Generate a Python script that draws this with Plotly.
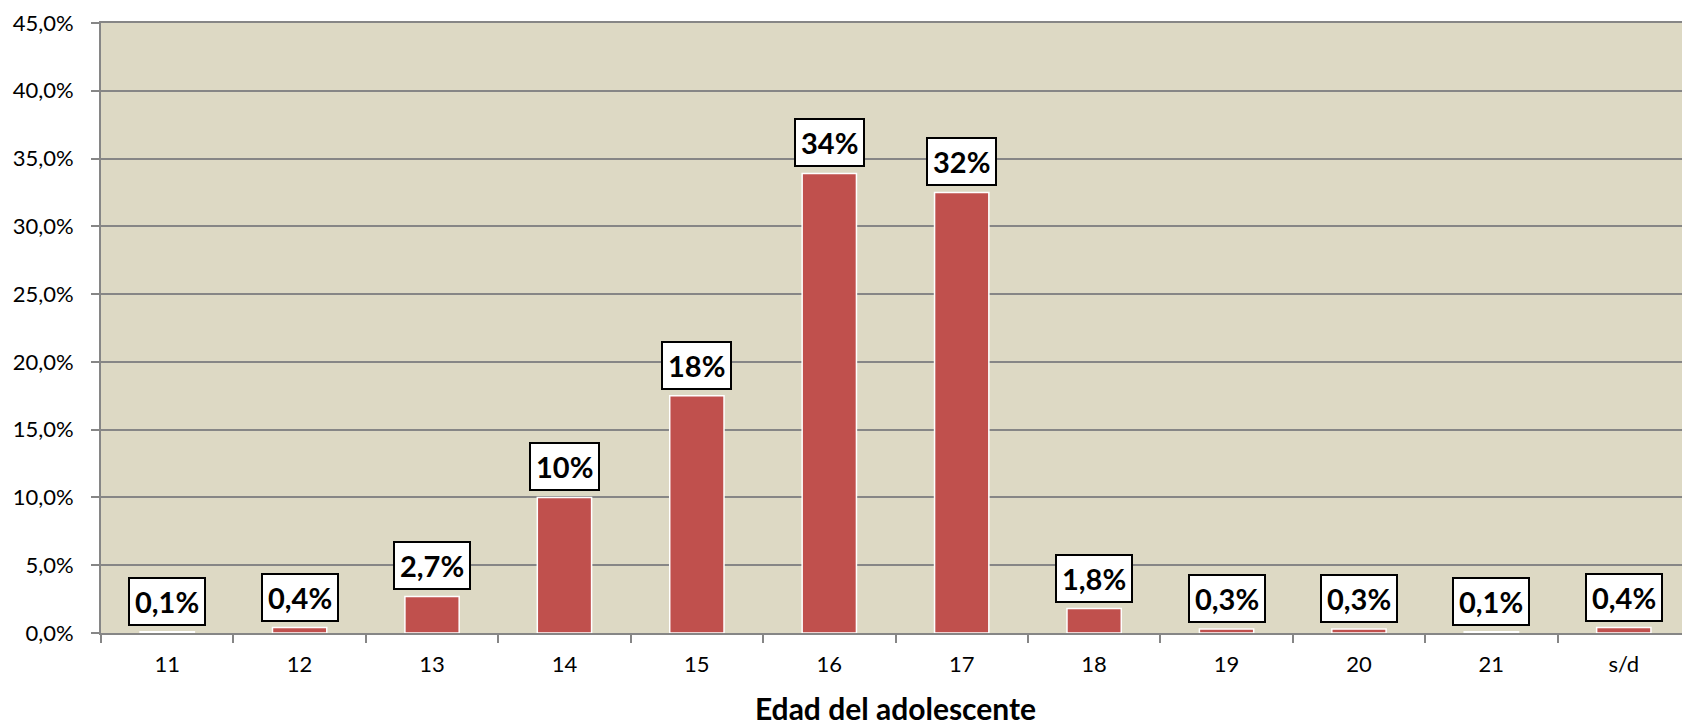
import plotly.graph_objects as go

edades = ["11", "12", "13", "14", "15", "16", "17", "18", "19", "20", "21", "s/d"]
porcentajes = [0.1, 0.4, 2.7, 10.0, 17.5, 33.9, 32.5, 1.8, 0.3, 0.3, 0.1, 0.4]
etiquetas = ["0,1%", "0,4%", "2,7%", "10%", "18%", "34%", "32%", "1,8%", "0,3%", "0,3%", "0,1%", "0,4%"]
y_ticks = [0, 5, 10, 15, 20, 25, 30, 35, 40, 45]
y_ticktext = ["0,0%", "5,0%", "10,0%", "15,0%", "20,0%", "25,0%", "30,0%", "35,0%", "40,0%", "45,0%"]

fuente = "Lato"

fig = go.Figure()
fig.add_trace(go.Bar(
    x=edades, y=porcentajes,
    marker=dict(color="#C0504D", line=dict(color="white", width=1.5)),
    width=0.41,
    hoverinfo="x+y",
))

# etiquetas con recuadro blanco sobre cada barra
for i, (v, t) in enumerate(zip(porcentajes, etiquetas)):
    fig.add_annotation(
        x=i, y=v, text="<b>" + t + "</b>", showarrow=False,
        yanchor="bottom", yshift=6,
        font=dict(family=fuente, size=29, color="black"),
        bgcolor="white", bordercolor="black", borderwidth=2, borderpad=5,
    )

# la pagina tiene 8px de margen en el body
fig.update_layout(
    width=1682, height=718,
    margin=dict(l=93, r=0, t=15, b=93),
    paper_bgcolor="white",
    plot_bgcolor="#DDD9C4",
    showlegend=False,
    font=dict(family=fuente, size=22, color="black"),
)
fig.update_xaxes(
    type="category", range=[-0.5, 11.5], automargin=False,
    showline=True, linecolor="#868686", linewidth=2, mirror=True,
    ticks="outside", tickson="boundaries", ticklen=8, tickcolor="#868686", tickwidth=2,
    tickfont=dict(size=22), ticklabelstandoff=11,
    title=dict(text="<b>Edad del adolescente</b>", font=dict(size=30), standoff=24),
    showgrid=False,
)
fig.update_yaxes(
    range=[0, 45], tickvals=y_ticks, ticktext=y_ticktext, automargin=False,
    showline=True, linecolor="#868686", linewidth=2,
    ticks="outside", ticklen=8, tickcolor="#868686", tickwidth=2,
    gridcolor="#868686", gridwidth=1.5,
    tickfont=dict(size=22), ticklabelstandoff=13, ticklabeloverflow="allow",
    zeroline=False,
)

fig.write_html("out.html")
